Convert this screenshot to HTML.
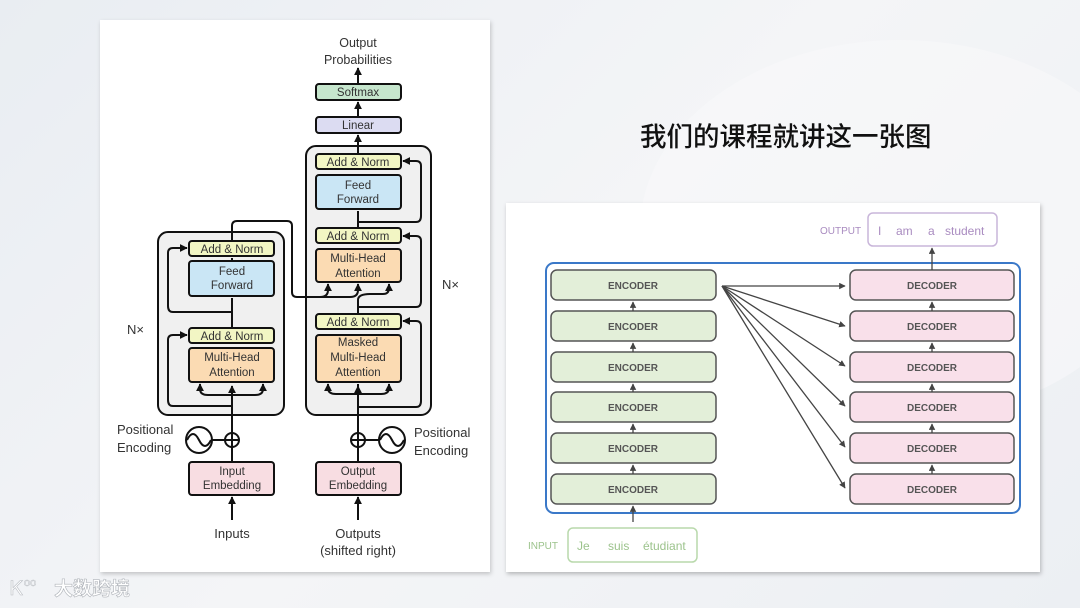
<!DOCTYPE html>
<html><head><meta charset="utf-8"><style>
html,body{margin:0;padding:0}
body{width:1080px;height:608px;overflow:hidden;background:linear-gradient(135deg,#e9edf2 0%,#f4f5f7 50%,#eceff3 100%);position:relative;font-family:"Liberation Sans","Noto Sans CJK SC",sans-serif}
svg{position:absolute;left:0;top:0}
</style></head><body>
<svg width="1080" height="608" viewBox="0 0 1080 608" font-family="Liberation Sans, Noto Sans CJK SC, sans-serif">
<defs>
<marker id="a" viewBox="0 0 10 10" refX="9" refY="5" markerWidth="4" markerHeight="4" orient="auto"><path d="M0,0L10,5L0,10z" fill="#111"/></marker>
<marker id="g" viewBox="0 0 10 10" refX="9" refY="5" markerWidth="5" markerHeight="5" orient="auto"><path d="M0,0L10,5L0,10z" fill="#444"/></marker>
</defs>
<ellipse cx="900" cy="230" rx="260" ry="190" fill="#f8f9fa" opacity="0.6"/>
<!-- left panel -->
<rect x="100" y="20" width="390" height="552" fill="#fff" style="filter:drop-shadow(1px 2px 2px rgba(0,0,0,.2))"/>
<g font-size="12.5" fill="#333" text-anchor="middle">
<text x="358" y="47">Output</text><text x="358" y="64">Probabilities</text>
</g>
<g stroke="#111" stroke-width="2">
<rect x="306" y="146" width="125" height="269" rx="10" fill="#f0f0f0"/>
<rect x="158" y="232" width="126" height="183" rx="10" fill="#f0f0f0"/>
<rect x="316" y="84" width="85" height="16" rx="3" fill="#c6e6cd"/>
<rect x="316" y="117" width="85" height="16" rx="3" fill="#dcdcf2"/>
<rect x="316" y="154" width="85" height="15" rx="3" fill="#f2f6c4"/>
<rect x="316" y="175" width="85" height="34" rx="3" fill="#cae6f5"/>
<rect x="316" y="228" width="85" height="15" rx="3" fill="#f2f6c4"/>
<rect x="316" y="249" width="85" height="33" rx="3" fill="#fbdbb3"/>
<rect x="316" y="314" width="85" height="15" rx="3" fill="#f2f6c4"/>
<rect x="316" y="335" width="85" height="47" rx="3" fill="#fbdbb3"/>
<rect x="189" y="241" width="85" height="15" rx="3" fill="#f2f6c4"/>
<rect x="189" y="261" width="85" height="35" rx="3" fill="#cae6f5"/>
<rect x="189" y="328" width="85" height="15" rx="3" fill="#f2f6c4"/>
<rect x="189" y="348" width="85" height="34" rx="3" fill="#fbdbb3"/>
<rect x="189" y="462" width="85" height="33" rx="3" fill="#f8dde2"/>
<rect x="316" y="462" width="85" height="33" rx="3" fill="#f8dde2"/>
</g>
<g font-size="11.5" fill="#333" text-anchor="middle">
<text x="358" y="96">Softmax</text><text x="358" y="129">Linear</text>
<text x="358" y="166">Add &amp; Norm</text><text x="358" y="189">Feed</text><text x="358" y="203">Forward</text>
<text x="358" y="240">Add &amp; Norm</text><text x="358" y="262">Multi-Head</text><text x="358" y="277">Attention</text>
<text x="358" y="326">Add &amp; Norm</text><text x="358" y="346">Masked</text><text x="358" y="361">Multi-Head</text><text x="358" y="376">Attention</text>
<text x="232" y="253">Add &amp; Norm</text><text x="232" y="275">Feed</text><text x="232" y="289">Forward</text>
<text x="232" y="340">Add &amp; Norm</text><text x="232" y="361">Multi-Head</text><text x="232" y="376">Attention</text>
<text x="232" y="475">Input</text><text x="232" y="489">Embedding</text>
<text x="358" y="475">Output</text><text x="358" y="489">Embedding</text>
</g>
<g font-size="13" fill="#333">
<text x="232" y="538" text-anchor="middle">Inputs</text>
<text x="358" y="538" text-anchor="middle">Outputs</text><text x="358" y="555" text-anchor="middle">(shifted right)</text>
<text x="117" y="434">Positional</text><text x="117" y="452">Encoding</text>
<text x="414" y="437">Positional</text><text x="414" y="455">Encoding</text>
<text x="127" y="334">N×</text><text x="442" y="289">N×</text>
</g>
<g stroke="#111" stroke-width="2" fill="none">
<line x1="358" y1="117" x2="358" y2="102" marker-end="url(#a)"/>
<line x1="358" y1="84" x2="358" y2="68" marker-end="url(#a)"/>
<line x1="358" y1="154" x2="358" y2="135" marker-end="url(#a)"/>
<line x1="358" y1="228" x2="358" y2="211"/>
<line x1="358" y1="314" x2="358" y2="300"/>
<path d="M358,300 Q358,294 370,294 L383,294 Q389,294 389,288 L389,284" marker-end="url(#a)"/>
<line x1="358" y1="462" x2="358" y2="384" />
<line x1="358" y1="520" x2="358" y2="497" marker-end="url(#a)"/>
<line x1="358" y1="433" x2="358" y2="386" marker-end="url(#a)"/>
<path d="M358,394 L336,394 Q328,394 328,388 L328,384" marker-end="url(#a)"/>
<path d="M358,394 L381,394 Q389,394 389,388 L389,384" marker-end="url(#a)"/>
<path d="M358,222 L416,222 Q421,222 421,216 L421,166 Q421,161 416,161 L403,161" marker-end="url(#a)"/>
<path d="M358,307 L416,307 Q421,307 421,301 L421,241 Q421,236 416,236 L403,236" marker-end="url(#a)"/>
<path d="M358,407 L416,407 Q421,407 421,401 L421,326 Q421,321 416,321 L403,321" marker-end="url(#a)"/>
<path d="M232,241 L232,226 Q232,221 237,221 L287,221 Q292,221 292,226 L292,292 Q292,297 297,297 L350,297 Q358,297 358,290 L358,284" marker-end="url(#a)"/>
<path d="M320,297 Q328,297 328,290 L328,284" marker-end="url(#a)"/>
<line x1="232" y1="328" x2="232" y2="298"/>
<line x1="232" y1="261" x2="232" y2="258" />
<line x1="232" y1="462" x2="232" y2="386"/>
<line x1="232" y1="433" x2="232" y2="386" marker-end="url(#a)"/>
<line x1="232" y1="520" x2="232" y2="497" marker-end="url(#a)"/>
<path d="M232,395 L208,395 Q200,395 200,389 L200,384" marker-end="url(#a)"/>
<path d="M232,395 L255,395 Q263,395 263,389 L263,384" marker-end="url(#a)"/>
<path d="M232,312 L173,312 Q168,312 168,306 L168,253 Q168,248 173,248 L187,248" marker-end="url(#a)"/>
<path d="M232,406 L173,406 Q168,406 168,400 L168,340 Q168,335 173,335 L187,335" marker-end="url(#a)"/>
<circle cx="232" cy="440" r="7" fill="#fff"/><line x1="225" y1="440" x2="239" y2="440"/><line x1="232" y1="433" x2="232" y2="447"/>
<circle cx="358" cy="440" r="7" fill="#fff"/><line x1="351" y1="440" x2="365" y2="440"/><line x1="358" y1="433" x2="358" y2="447"/>
<circle cx="199" cy="440" r="13"/><path d="M187,440 Q193,428 199,440 Q205,452 211,440"/>
<line x1="212" y1="440" x2="225" y2="440"/>
<circle cx="392" cy="440" r="13"/><path d="M380,440 Q386,428 392,440 Q398,452 404,440"/>
<line x1="365" y1="440" x2="379" y2="440"/>
</g>
<text x="640" y="146" font-size="26.5" fill="#111" font-family="Noto Sans CJK SC, sans-serif" font-weight="500">我们的课程就讲这一张图</text>
<rect x="506" y="203" width="534" height="369" fill="#fff" style="filter:drop-shadow(1px 2px 2px rgba(0,0,0,.25))"/>
<rect x="546" y="263" width="474" height="250" rx="8" fill="none" stroke="#3a78c8" stroke-width="2"/>
<g stroke="#555" stroke-width="1.5">
<rect x="551" y="270" width="165" height="30" rx="6" fill="#e3efd9"/>
<rect x="551" y="311" width="165" height="30" rx="6" fill="#e3efd9"/>
<rect x="551" y="352" width="165" height="30" rx="6" fill="#e3efd9"/>
<rect x="551" y="392" width="165" height="30" rx="6" fill="#e3efd9"/>
<rect x="551" y="433" width="165" height="30" rx="6" fill="#e3efd9"/>
<rect x="551" y="474" width="165" height="30" rx="6" fill="#e3efd9"/>
<rect x="850" y="270" width="164" height="30" rx="6" fill="#f9e0ea"/>
<rect x="850" y="311" width="164" height="30" rx="6" fill="#f9e0ea"/>
<rect x="850" y="352" width="164" height="30" rx="6" fill="#f9e0ea"/>
<rect x="850" y="392" width="164" height="30" rx="6" fill="#f9e0ea"/>
<rect x="850" y="433" width="164" height="30" rx="6" fill="#f9e0ea"/>
<rect x="850" y="474" width="164" height="30" rx="6" fill="#f9e0ea"/>
</g>
<rect x="868" y="213" width="129" height="33" rx="5" fill="#fff" stroke="#c9b6da" stroke-width="1.5"/>
<rect x="568" y="528" width="129" height="34" rx="5" fill="#fff" stroke="#b9d9ac" stroke-width="1.5"/>
<g font-size="10" font-weight="bold" fill="#555" text-anchor="middle">
<text x="633" y="289">ENCODER</text><text x="633" y="330">ENCODER</text><text x="633" y="371">ENCODER</text>
<text x="633" y="411">ENCODER</text><text x="633" y="452">ENCODER</text><text x="633" y="493">ENCODER</text>
<text x="932" y="289">DECODER</text><text x="932" y="330">DECODER</text><text x="932" y="371">DECODER</text>
<text x="932" y="411">DECODER</text><text x="932" y="452">DECODER</text><text x="932" y="493">DECODER</text>
</g>
<text x="820" y="234" font-size="10" fill="#a98bc0">OUTPUT</text>
<text x="878" y="235" font-size="12" fill="#a98bc0">I</text>
<text x="896" y="235" font-size="12" fill="#a98bc0">am</text>
<text x="928" y="235" font-size="12" fill="#a98bc0">a</text>
<text x="945" y="235" font-size="12" fill="#a98bc0">student</text>
<text x="528" y="549" font-size="10" fill="#9cc38c">INPUT</text>
<text x="577" y="550" font-size="12" fill="#9cc38c">Je</text>
<text x="608" y="550" font-size="12" fill="#9cc38c">suis</text>
<text x="643" y="550" font-size="12" fill="#9cc38c">étudiant</text>
<g stroke="#444" stroke-width="1.3" fill="none">
<line x1="633" y1="522" x2="633" y2="506" marker-end="url(#g)"/>
<line x1="633" y1="474" x2="633" y2="465" marker-end="url(#g)"/>
<line x1="633" y1="433" x2="633" y2="424" marker-end="url(#g)"/>
<line x1="633" y1="392" x2="633" y2="384" marker-end="url(#g)"/>
<line x1="633" y1="352" x2="633" y2="343" marker-end="url(#g)"/>
<line x1="633" y1="311" x2="633" y2="302" marker-end="url(#g)"/>
<line x1="932" y1="474" x2="932" y2="465" marker-end="url(#g)"/>
<line x1="932" y1="433" x2="932" y2="424" marker-end="url(#g)"/>
<line x1="932" y1="392" x2="932" y2="384" marker-end="url(#g)"/>
<line x1="932" y1="352" x2="932" y2="343" marker-end="url(#g)"/>
<line x1="932" y1="311" x2="932" y2="302" marker-end="url(#g)"/>
<line x1="932" y1="270" x2="932" y2="248" marker-end="url(#g)"/>
<line x1="722" y1="286" x2="845" y2="286" marker-end="url(#g)"/>
<line x1="722" y1="286" x2="845" y2="326" marker-end="url(#g)"/>
<line x1="722" y1="286" x2="845" y2="366" marker-end="url(#g)"/>
<line x1="722" y1="286" x2="845" y2="406" marker-end="url(#g)"/>
<line x1="722" y1="286" x2="845" y2="447" marker-end="url(#g)"/>
<line x1="722" y1="286" x2="845" y2="488" marker-end="url(#g)"/>
</g>
<text x="10" y="595" font-size="20" fill="#fff" stroke="#b8bcc2" stroke-width="0.6" font-family="Liberation Sans, sans-serif">Ꮶ</text>
<text x="24" y="586" font-size="11" fill="#fff" stroke="#b8bcc2" stroke-width="0.5">oo</text>
<text x="54" y="595" font-size="19" fill="#fff" stroke="#b0b4ba" stroke-width="0.6" font-family="Noto Sans CJK SC, sans-serif" font-weight="bold">大数跨境</text>
</svg>
</body></html>
